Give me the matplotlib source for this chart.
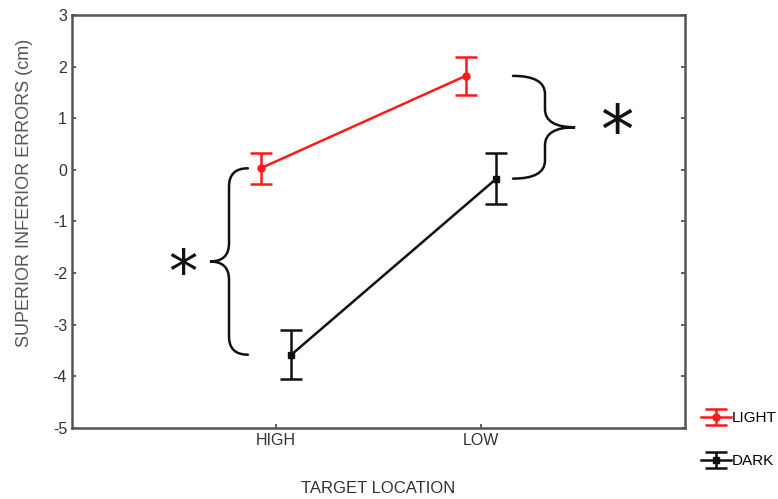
import numpy as np
import matplotlib
matplotlib.use("Agg")
import matplotlib.pyplot as plt
from matplotlib.path import Path
import matplotlib.patches as mpatches

# data
categories = ["HIGH", "LOW"]
light_mean = [0.03, 1.82]
light_err = [0.30, 0.37]
dark_mean = [-3.58, -0.17]
dark_err = [0.47, 0.50]

plt.rcParams['font.family'] = ['Liberation Sans', 'DejaVu Sans']
plt.rcParams['axes.unicode_minus'] = False


def brace(ax, y_top, y_bot, x_end, x_mid, x_tip, r):
    """Curly brace between y_top and y_bot, tip pointing toward x_tip."""
    y_tip = (y_top + y_bot) / 2
    verts = [
        (x_end, y_top),
        (x_mid, y_top), (x_mid, y_top - r),
        (x_mid, y_tip + r),
        (x_mid, y_tip), (x_tip, y_tip),
        (x_mid, y_tip), (x_mid, y_tip - r),
        (x_mid, y_bot + r),
        (x_mid, y_bot), (x_end, y_bot),
    ]
    codes = [Path.MOVETO,
             Path.CURVE3, Path.CURVE3,
             Path.LINETO,
             Path.CURVE3, Path.CURVE3,
             Path.CURVE3, Path.CURVE3,
             Path.LINETO,
             Path.CURVE3, Path.CURVE3]
    ax.add_patch(mpatches.PathPatch(Path(verts, codes), fill=False,
                                    lw=1.8, color='#111111', capstyle='round'))
    return y_tip


fig = plt.figure(figsize=(7.78, 4.99), dpi=100)
ax = fig.add_axes([0.0925, 0.1423, 0.788, 0.8277])

x = np.arange(len(categories))
off = 0.075

light = ax.errorbar(x - off, light_mean, yerr=light_err, color='#ff1a1a', lw=1.8,
                    marker='o', ms=5, capsize=8, capthick=1.8, elinewidth=1.8,
                    label='LIGHT')
dark = ax.errorbar(x + off, dark_mean, yerr=dark_err, color='#111111', lw=1.8,
                   marker='s', ms=5, capsize=8, capthick=1.8, elinewidth=1.8,
                   label='DARK')

# significance braces
yt = brace(ax, light_mean[0], dark_mean[0], -0.137, -0.229, -0.322, 0.35)
ax.text(-0.455, yt - 0.27, '*', fontsize=42, ha='center', va='center',
        family='DejaVu Sans', color='#111111')
yt = brace(ax, light_mean[1], dark_mean[1], 1.156, 1.312, 1.459, 0.35)
ax.text(1.66, yt - 0.14, '*', fontsize=48, ha='center', va='center',
        family='DejaVu Sans', color='#111111')

ax.set_xlim(-0.995, 1.995)
ax.set_ylim(-5, 3)
ax.set_xticks(x)
ax.set_xticklabels(categories)
ax.set_yticks(range(-5, 4))
ax.tick_params(direction='in', length=3, width=1.2, colors='#444444',
               labelcolor='#333333', labelsize=11.5, right=True)
for s in ax.spines.values():
    s.set_color('#555555')
    s.set_linewidth(1.8)

ax.set_ylabel('SUPERIOR INFERIOR ERRORS (cm)', fontsize=13, color='#555555')
ax.yaxis.set_label_coords(-0.064, 0.57)
ax.set_xlabel('TARGET LOCATION', fontsize=12, color='#333333', labelpad=24)

fig.legend(handles=[light, dark], loc='upper left',
           bbox_to_anchor=(0.893, 0.188), frameon=False, fontsize=11,
           labelspacing=1.9, handlelength=2.0, handletextpad=0.0,
           borderaxespad=0)

fig.savefig('out.png', dpi=100)
